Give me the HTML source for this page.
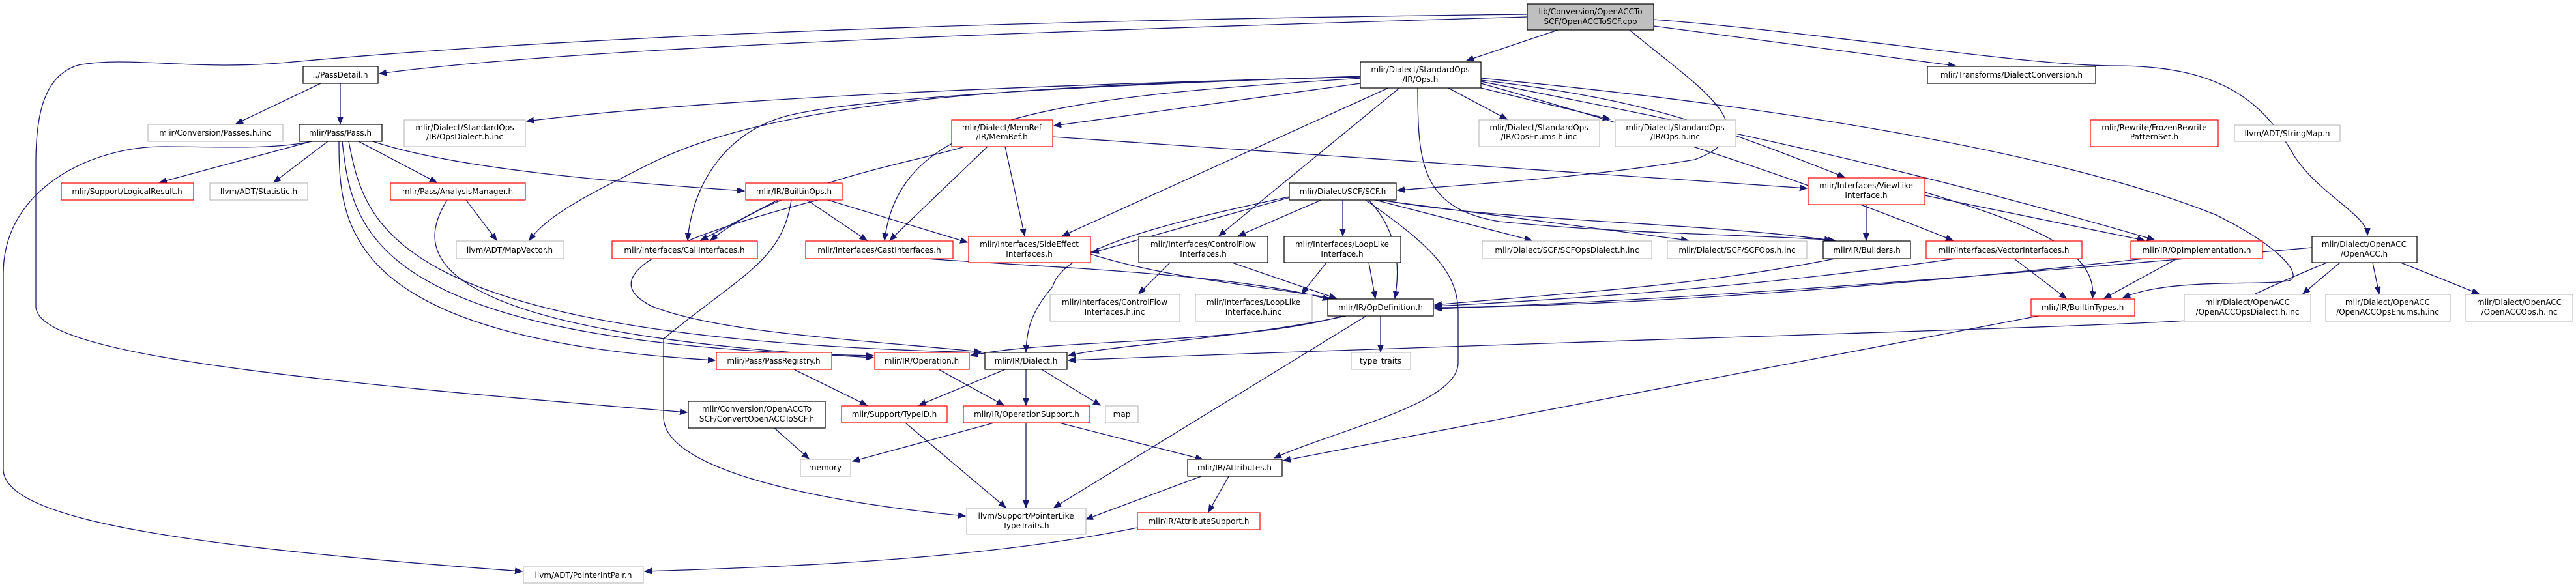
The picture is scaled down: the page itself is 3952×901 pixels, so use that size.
<!DOCTYPE html>
<html><head><meta charset="utf-8"><style>
html,body{margin:0;padding:0;background:#fff;}
svg{display:block;}
text{font-family:"DejaVu Sans","Liberation Sans",sans-serif;font-size:12px;fill:#000;text-anchor:middle;}
.e{fill:none;stroke:#191970;stroke-width:1.3;marker-end:url(#a);}
.k{fill:#fff;stroke:#000;stroke-width:1.2;}
.g{fill:#fff;stroke:#bfbfbf;stroke-width:1.2;}
.r{fill:#fff;stroke:#ff0000;stroke-width:1.2;}
.t{fill:#bfbfbf;stroke:#000;stroke-width:1.2;}
</style></head><body>
<svg width="3952" height="901" viewBox="0 0 3952 901" xmlns="http://www.w3.org/2000/svg">
<defs><marker id="a" markerUnits="userSpaceOnUse" markerWidth="12" markerHeight="10" refX="11" refY="4.5" orient="auto"><path d="M0,0 L11,4.5 L0,9 z" fill="#191970" stroke="#191970"/></marker></defs>
<g>
<path class="e" d="M2343,26 C1700,45 900,70 582,113"/>
<path class="e" d="M2343,22 C1800,28 1000,45 450,95 C300,110 200,85 120,100 C70,115 55,170 55,250 L55,470 C55,540 400,580 1054,633"/>
<path class="e" d="M2390,46 L2250,93"/>
<path class="e" d="M2500,46 C2600,130 2720,200 2600,245 C2450,270 2300,280 2144,292"/>
<path class="e" d="M2537,40 L3000,101"/>
<path class="e" d="M2537,30 C2800,50 3100,100 3240,101 C3400,100 3470,150 3520,240 C3560,300 3632,330 3632,361"/>
<path class="e" d="M492,128 L362,190"/>
<path class="e" d="M522,128 L522,190"/>
<path class="e" d="M478,217 L245,280"/>
<path class="e" d="M503,217 L420,280"/>
<path class="e" d="M550,217 L670,280"/>
<path class="e" d="M572,217 C700,260 950,280 1142,293"/>
<path class="e" d="M478,217 C420,230 330,225 250,225 C140,225 5,290 5,420 L5,720 C5,800 300,840 801,877"/>
<path class="e" d="M520,217 C520,350 530,520 1097,553"/>
<path class="e" d="M525,217 C540,350 560,530 1340,546"/>
<path class="e" d="M535,217 C560,350 600,520 1505,541"/>
<path class="e" d="M715,307 L762,369"/>
<path class="e" d="M686,307 C640,380 620,510 1340,549"/>
<path class="e" d="M1193,307 L1075,369"/>
<path class="e" d="M1238,307 L1330,369"/>
<path class="e" d="M1270,307 L1484,372"/>
<path class="e" d="M1214,307 C1200,400 1140,420 1018,520 L1018,640 C1018,720 1250,770 1481,792"/>
<path class="e" d="M1255,307 C1050,360 900,420 1000,470 C1100,510 1300,520 1505,540"/>
<path class="e" d="M2087,118 C1600,130 1100,150 808,186"/>
<path class="e" d="M2087,128 L1617,193"/>
<path class="e" d="M2087,117 C1700,130 1300,150 1200,180 C1100,210 1060,300 1055,369"/>
<path class="e" d="M2090,120 C1600,150 1380,180 1357,369"/>
<path class="e" d="M2090,118 C1600,130 1200,150 1000,250 C900,300 840,330 812,369"/>
<path class="e" d="M2130,135 L1630,362"/>
<path class="e" d="M2147,135 L1870,362"/>
<path class="e" d="M2222,135 L2312,183"/>
<path class="e" d="M2272,135 L2470,183"/>
<path class="e" d="M2272,123 C2500,150 2600,180 2830,272"/>
<path class="e" d="M2272,125 C2600,190 2900,250 3305,368"/>
<path class="e" d="M2272,120 C2700,160 3150,230 3400,330 C3500,380 3530,420 3514,430 C3480,440 3330,425 3257,457"/>
<path class="e" d="M2175,135 C2175,250 2180,320 2300,340 C2500,360 2700,360 2815,369"/>
<path class="e" d="M2272,128 C2600,220 2800,290 2996,369"/>
<path class="e" d="M1480,225 C1400,250 1200,280 1090,369"/>
<path class="e" d="M1515,225 L1365,369"/>
<path class="e" d="M1542,225 L1572,362"/>
<path class="e" d="M1615,210 L2772,289"/>
<path class="e" d="M1990,300 L1675,388"/>
<path class="e" d="M2027,307 L1900,362"/>
<path class="e" d="M2060,307 L2060,362"/>
<path class="e" d="M2110,307 L2350,369"/>
<path class="e" d="M2115,307 L2590,369"/>
<path class="e" d="M2120,307 C2300,340 2600,340 2810,369"/>
<path class="e" d="M1978,302 C1800,340 1630,380 1615,440 C1580,480 1575,510 1574,540"/>
<path class="e" d="M2100,307 C2140,350 2150,400 2140,458"/>
<path class="e" d="M2095,307 C2200,380 2237,420 2237,480 L2237,557 C2237,620 2050,660 1955,703"/>
<path class="e" d="M2863,314 L2863,369"/>
<path class="e" d="M2953,300 L3290,369"/>
<path class="e" d="M2953,295 C3100,340 3220,380 3210,458"/>
<path class="e" d="M1890,403 L2050,458"/>
<path class="e" d="M1795,403 L1747,451"/>
<path class="e" d="M2035,403 L1997,451"/>
<path class="e" d="M2100,403 L2110,458"/>
<path class="e" d="M1673,390 C1800,430 1950,440 2050,459"/>
<path class="e" d="M1420,397 C1600,410 1900,420 2040,460"/>
<path class="e" d="M2815,397 C2600,440 2400,450 2201,468"/>
<path class="e" d="M3000,397 C2700,440 2400,460 2201,470"/>
<path class="e" d="M3290,397 C2900,440 2500,470 2201,472"/>
<path class="e" d="M3547,380 C3100,420 2600,460 2201,474"/>
<path class="e" d="M3090,397 L3170,458"/>
<path class="e" d="M3340,397 L3228,458"/>
<path class="e" d="M3590,403 L3533,451"/>
<path class="e" d="M3640,403 L3650,451"/>
<path class="e" d="M3683,403 L3803,451"/>
<path class="e" d="M3570,403 C3480,440 3420,470 3380,490 C3300,500 2500,520 1639,553"/>
<path class="e" d="M2065,485 C1900,520 1700,530 1639,546"/>
<path class="e" d="M2060,485 C1900,530 1600,520 1489,546"/>
<path class="e" d="M2118,485 L2118,540"/>
<path class="e" d="M2096,485 L1617,779"/>
<path class="e" d="M1542,567 L1410,622"/>
<path class="e" d="M1574,567 L1574,622"/>
<path class="e" d="M1598,567 L1688,622"/>
<path class="e" d="M1440,567 L1540,622"/>
<path class="e" d="M1218,567 L1330,622"/>
<path class="e" d="M1188,657 L1241,704"/>
<path class="e" d="M1389,649 L1543,779"/>
<path class="e" d="M1525,649 L1308,708"/>
<path class="e" d="M1574,649 L1574,779"/>
<path class="e" d="M1625,649 L1845,705"/>
<path class="e" d="M1843,731 L1666,797"/>
<path class="e" d="M1885,731 L1854,786"/>
<path class="e" d="M1745,810 C1500,860 1200,870 989,877"/>
<path class="e" d="M3127,485 L1969,707"/>
</g>
<g>
<rect class="t" x="2343" y="6" width="194" height="40"/><text x="2440" y="22">lib/Conversion/OpenACCTo</text><text x="2440" y="37">SCF/OpenACCToSCF.cpp</text>
<rect class="k" x="465" y="102" width="115" height="26"/><text x="522" y="119">../PassDetail.h</text>
<rect class="g" x="227" y="191" width="207" height="26"/><text x="330" y="208">mlir/Conversion/Passes.h.inc</text>
<rect class="k" x="459" y="191" width="127" height="26"/><text x="522" y="208">mlir/Pass/Pass.h</text>
<rect class="g" x="620" y="184" width="186" height="41"/><text x="713" y="200">mlir/Dialect/StandardOps</text><text x="713" y="214">/IR/OpsDialect.h.inc</text>
<rect class="r" x="94" y="281" width="203" height="26"/><text x="195" y="298">mlir/Support/LogicalResult.h</text>
<rect class="g" x="322" y="281" width="150" height="26"/><text x="397" y="298">llvm/ADT/Statistic.h</text>
<rect class="r" x="599" y="281" width="207" height="26"/><text x="702" y="298">mlir/Pass/AnalysisManager.h</text>
<rect class="r" x="1144" y="281" width="148" height="26"/><text x="1218" y="298">mlir/IR/BuiltinOps.h</text>
<rect class="g" x="700" y="370" width="165" height="27"/><text x="782" y="388">llvm/ADT/MapVector.h</text>
<rect class="r" x="939" y="370" width="223" height="27"/><text x="1050" y="388">mlir/Interfaces/CallInterfaces.h</text>
<rect class="r" x="1236" y="370" width="226" height="27"/><text x="1349" y="388">mlir/Interfaces/CastInterfaces.h</text>
<rect class="k" x="2087" y="95" width="185" height="40"/><text x="2179" y="111">mlir/Dialect/StandardOps</text><text x="2179" y="126">/IR/Ops.h</text>
<rect class="r" x="1460" y="184" width="155" height="41"/><text x="1537" y="200">mlir/Dialect/MemRef</text><text x="1537" y="214">/IR/MemRef.h</text>
<rect class="g" x="2269" y="184" width="185" height="41"/><text x="2361" y="200">mlir/Dialect/StandardOps</text><text x="2361" y="214">/IR/OpsEnums.h.inc</text>
<rect class="g" x="2478" y="184" width="185" height="41"/><text x="2570" y="200">mlir/Dialect/StandardOps</text><text x="2570" y="214">/IR/Ops.h.inc</text>
<rect class="k" x="1978" y="281" width="164" height="26"/><text x="2060" y="298">mlir/Dialect/SCF/SCF.h</text>
<rect class="r" x="1486" y="363" width="187" height="40"/><text x="1579" y="379">mlir/Interfaces/SideEffect</text><text x="1579" y="394">Interfaces.h</text>
<rect class="k" x="1747" y="363" width="198" height="40"/><text x="1846" y="379">mlir/Interfaces/ControlFlow</text><text x="1846" y="394">Interfaces.h</text>
<rect class="k" x="1970" y="363" width="179" height="40"/><text x="2059" y="379">mlir/Interfaces/LoopLike</text><text x="2059" y="394">Interface.h</text>
<rect class="g" x="2274" y="370" width="260" height="27"/><text x="2404" y="388">mlir/Dialect/SCF/SCFOpsDialect.h.inc</text>
<rect class="g" x="2558" y="370" width="214" height="27"/><text x="2665" y="388">mlir/Dialect/SCF/SCFOps.h.inc</text>
<rect class="k" x="2957" y="102" width="258" height="26"/><text x="3086" y="119">mlir/Transforms/DialectConversion.h</text>
<rect class="r" x="3207" y="184" width="196" height="41"/><text x="3305" y="200">mlir/Rewrite/FrozenRewrite</text><text x="3305" y="214">PatternSet.h</text>
<rect class="g" x="3428" y="192" width="162" height="25"/><text x="3509" y="209">llvm/ADT/StringMap.h</text>
<rect class="r" x="2774" y="273" width="179" height="41"/><text x="2863" y="289">mlir/Interfaces/ViewLike</text><text x="2863" y="304">Interface.h</text>
<rect class="k" x="2797" y="370" width="134" height="27"/><text x="2864" y="388">mlir/IR/Builders.h</text>
<rect class="r" x="2955" y="370" width="239" height="27"/><text x="3074" y="388">mlir/Interfaces/VectorInterfaces.h</text>
<rect class="r" x="3269" y="370" width="202" height="27"/><text x="3370" y="388">mlir/IR/OpImplementation.h</text>
<rect class="k" x="3547" y="363" width="161" height="40"/><text x="3627" y="379">mlir/Dialect/OpenACC</text><text x="3627" y="394">/OpenACC.h</text>
<rect class="g" x="1611" y="452" width="199" height="41"/><text x="1710" y="468">mlir/Interfaces/ControlFlow</text><text x="1710" y="483">Interfaces.h.inc</text>
<rect class="g" x="1834" y="452" width="179" height="41"/><text x="1923" y="468">mlir/Interfaces/LoopLike</text><text x="1923" y="483">Interface.h.inc</text>
<rect class="k" x="2037" y="459" width="162" height="26"/><text x="2118" y="476">mlir/IR/OpDefinition.h</text>
<rect class="r" x="1342" y="541" width="145" height="26"/><text x="1414" y="558">mlir/IR/Operation.h</text>
<rect class="k" x="1511" y="541" width="126" height="26"/><text x="1574" y="558">mlir/IR/Dialect.h</text>
<rect class="g" x="2073" y="541" width="91" height="26"/><text x="2118" y="558">type_traits</text>
<rect class="r" x="1291" y="623" width="162" height="26"/><text x="1372" y="640">mlir/Support/TypeID.h</text>
<rect class="r" x="1478" y="623" width="194" height="26"/><text x="1575" y="640">mlir/IR/OperationSupport.h</text>
<rect class="g" x="1696" y="623" width="50" height="26"/><text x="1721" y="640">map</text>
<rect class="k" x="1822" y="705" width="145" height="26"/><text x="1894" y="722">mlir/IR/Attributes.h</text>
<rect class="g" x="1483" y="780" width="183" height="40"/><text x="1574" y="796">llvm/Support/PointerLike</text><text x="1574" y="811">TypeTraits.h</text>
<rect class="r" x="1745" y="787" width="188" height="26"/><text x="1839" y="804">mlir/IR/AttributeSupport.h</text>
<rect class="r" x="1099" y="541" width="177" height="26"/><text x="1187" y="558">mlir/Pass/PassRegistry.h</text>
<rect class="k" x="1056" y="616" width="210" height="41"/><text x="1161" y="632">mlir/Conversion/OpenACCTo</text><text x="1161" y="647">SCF/ConvertOpenACCToSCF.h</text>
<rect class="g" x="1228" y="705" width="77" height="26"/><text x="1266" y="722">memory</text>
<rect class="g" x="803" y="870" width="184" height="25"/><text x="895" y="887">llvm/ADT/PointerIntPair.h</text>
<rect class="r" x="3116" y="459" width="159" height="26"/><text x="3195" y="476">mlir/IR/BuiltinTypes.h</text>
<rect class="g" x="3351" y="452" width="194" height="41"/><text x="3448" y="468">mlir/Dialect/OpenACC</text><text x="3448" y="483">/OpenACCOpsDialect.h.inc</text>
<rect class="g" x="3568" y="452" width="191" height="41"/><text x="3663" y="468">mlir/Dialect/OpenACC</text><text x="3663" y="483">/OpenACCOpsEnums.h.inc</text>
<rect class="g" x="3783" y="452" width="164" height="41"/><text x="3865" y="468">mlir/Dialect/OpenACC</text><text x="3865" y="483">/OpenACCOps.h.inc</text>
</g>
</svg>
</body></html>
